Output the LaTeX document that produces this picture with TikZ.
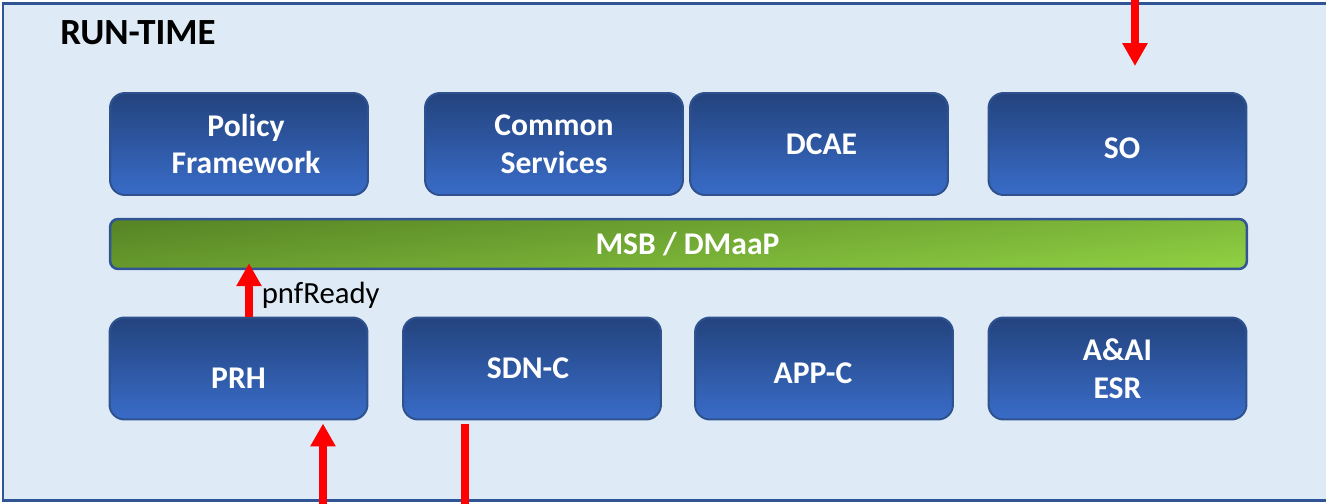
\documentclass[tikz,border=0pt]{standalone}
\usepackage{fontspec}
\setmainfont{Carlito}
\usetikzlibrary{arrows.meta}
\definecolor{runbg}{RGB}{222,235,247}
\definecolor{runline}{RGB}{47,85,151}
\definecolor{boxtop}{RGB}{35,67,125}
\definecolor{boxbottom}{RGB}{57,108,200}
\definecolor{boxline}{RGB}{47,82,143}
\definecolor{bustop}{RGB}{88,134,38}
\definecolor{busbottom}{RGB}{142,206,66}
\definecolor{busline}{RGB}{50,84,150}
\begin{document}
\begin{tikzpicture}[x=0.02cm, y=-0.02cm]
            \tikzstyle{frame}=[draw=runline, fill=runbg, line width=0.06cm]
            \tikzstyle{title}=[anchor=base west, inner sep=0pt, font=\fontsize{21}{25}\selectfont\bfseries]
            \tikzstyle{module}=[draw=boxline, line width=0.04cm, rounded corners=0.3cm, top color=boxtop, bottom color=boxbottom, text=white, align=center, inner sep=0pt, minimum width=5.16cm, minimum height=2.04cm, font=\fontsize{18}{21.6}\selectfont\bfseries]
            \tikzstyle{bus}=[draw=busline, line width=0.05cm, rounded corners=0.16cm, top color=bustop, bottom color=busbottom, shading angle=6, text=white, inner sep=0pt, minimum width=22.74cm, minimum height=1cm, font=\fontsize{18}{21.6}\selectfont\bfseries]
            \tikzstyle{flow}=[red, line width=0.16cm, -{Triangle[width=0.48cm, length=0.46cm]}]
            \tikzstyle{wire}=[red, line width=0.16cm]
            \useasboundingbox (0, 0) rectangle (1326, 504);
            \draw [frame] (3, 3) rectangle (1345, 500);
            \node [title] (rt) at (60, 44) {RUN-TIME};
            \node [module] (pf) at (239, 144) {\hspace{0.28cm}Policy\\\hspace{0.28cm}Framework};
            \node [module] (cs) at (554, 144) {Common\\Services};
            \node [module] (dcae) at (819, 144) {\hspace{0.1cm}DCAE};
            \node [module] (so) at (1117.5, 144) {\hspace{0.18cm}\raisebox{-0.285cm}[0pt][0pt]{SO}};
            \node [module] (prh) at (238.5, 368.5) {\raisebox{-0.405cm}[0pt][0pt]{PRH}};
            \node [module] (sdnc) at (532, 368.5) {SDN-C\hspace{0.16cm}};
            \node [module] (appc) at (824, 368.5) {\raisebox{-0.295cm}[0pt][0pt]{APP-C}\hspace{0.44cm}};
            \node [module] (aai) at (1117.5, 368.5) {A\&AI\\ESR};
            \node [bus] (msb) at (678.5, 244) {\hspace{0.36cm}MSB / DMaaP};
            \coordinate (soin) at (1135, -5);
            \coordinate (pnf) at (249, 0);
            \coordinate (prhin) at (323, 510);
            \coordinate (sdnout) at (465, 510);
            \draw [flow, shorten >=0.52cm] (soin) -- (soin |- so.north);
            \draw [flow, shorten >=-0.14cm] (prh.north -| pnf) -- (msb.south -| pnf)
                node [midway, right=0.06cm, yshift=-0.04cm, text=black, font=\fontsize{17.5}{21}\selectfont] (pnftext) {pnfReady};
            \draw [flow, shorten >=0.06cm] (prhin) -- (prhin |- prh.south);
            \draw [wire] ([yshift=-0.08cm]sdnc.south -| sdnout) -- (sdnout);
        \end{tikzpicture}
\end{document}
